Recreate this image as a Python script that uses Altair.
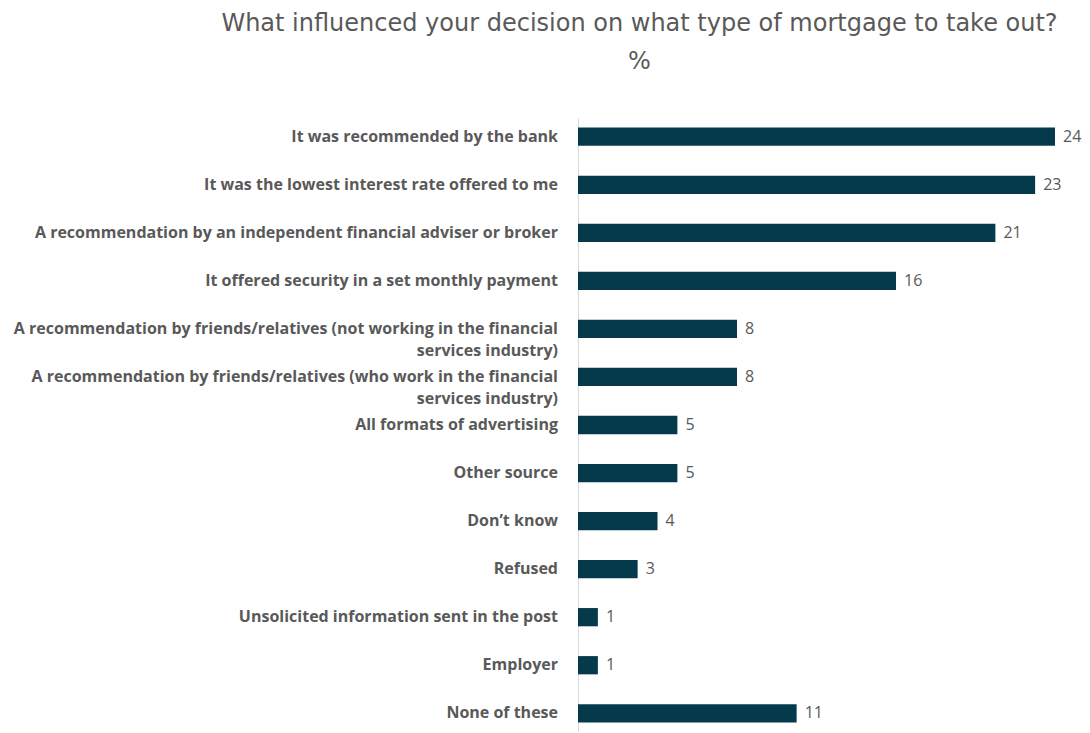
import altair as alt
import pandas as pd

categories = [
    "It was recommended by the bank",
    "It was the lowest interest rate offered to me",
    "A recommendation by an independent financial adviser or broker",
    "It offered security in a set monthly payment",
    "A recommendation by friends/relatives (not working in the financial\nservices industry)",
    "A recommendation by friends/relatives (who work in the financial\nservices industry)",
    "All formats of advertising",
    "Other source",
    "Don\u2019t know",
    "Refused",
    "Unsolicited information sent in the post",
    "Employer",
    "None of these",
]
values = [24, 23, 21, 16, 8, 8, 5, 5, 4, 3, 1, 1, 11]

df = pd.DataFrame({"cat": categories, "val": values, "order": list(range(len(values)))})

GRAY = "#595959"
BAR = "#043a4b"

y = alt.Y("cat:N", sort=alt.SortField("order"), title=None,
          scale=alt.Scale(paddingInner=0.62, paddingOuter=0.2),
          axis=alt.Axis(labels=False, ticks=False, domain=True, domainColor="#d9d9d9", domainWidth=1))
x = alt.X("val:Q", title=None, scale=alt.Scale(domain=[0, 24], nice=False, zero=True),
          axis=None)

base = alt.Chart(df)

bars = base.mark_bar(color=BAR).encode(x=x, y=y)

vals = base.mark_text(align="left", baseline="middle", dx=8, fontSize=16,
                      font="Open Sans", color=GRAY).encode(
    x=x, y=alt.Y("cat:N", sort=alt.SortField("order")), text=alt.Text("val:Q"))

labels = base.mark_text(align="right", baseline="middle", fontSize=16, fontWeight="bold",
                        font="Open Sans", color=GRAY,
                        lineBreak="\n", lineHeight=22).encode(
    x=alt.value(-20), y=alt.Y("cat:N", sort=alt.SortField("order")), text="cat:N")

chart = alt.layer(bars, vals, labels).properties(
    width=477, height=614,
    autosize=alt.AutoSizeParams(type="none"),
    padding={"left": 570, "top": 110, "right": 27, "bottom": 0},
    title=alt.TitleParams(
        text=["What influenced your decision on what type of mortgage to take out?", "%"],
        anchor="middle", dx=-177, offset=44, fontSize=24, fontWeight="normal",
        font="DejaVu Sans", color=GRAY, lineHeight=38),
).configure_view(stroke=None)

chart.save("out.html", embed_options={"renderer": "svg", "actions": False})
